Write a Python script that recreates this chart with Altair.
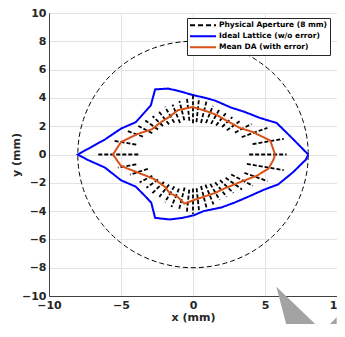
import numpy as np
import pandas as pd
import altair as alt

# ---------------- data ----------------
aperture_radius = 8.0

ideal_x = [8.0, 6.94, 5.81, 4.69, 3.56, 2.66, 1.53, 0.74, -0.04, -0.95, -1.73, -2.63, -2.93, -3.42, -3.98, -5.0, -6.12, -8.0,
           -7.36, -6.12, -5.0, -3.98, -3.42, -2.9, -2.63, -1.62, -0.74, 0.05, 0.74, 1.98, 2.88, 3.78, 4.9, 5.92, 6.94, 7.84, 8.0]
ideal_y = [0.0, 1.1, 2.23, 2.57, 3.02, 3.31, 3.81, 4.03, 4.21, 4.48, 4.66, 4.6, 3.47, 2.91, 2.28, 1.83, 1.06, 0.0,
           -0.36, -0.92, -1.82, -2.27, -2.84, -3.4, -4.48, -4.59, -4.48, -4.3, -4.0, -3.74, -3.4, -3.01, -2.5, -2.11, -1.26, -0.36, 0.0]

mean_x = [5.7, 5.36, 4.12, 3.22, 2.43, 1.64, 0.74, -0.04, -1.05, -1.62, -2.3, -2.86, -3.87, -5.0, -5.56,
          -5.0, -3.87, -2.74, -1.96, -1.62, -1.05, -0.6, 0.18, 1.53, 2.2, 3.33, 4.45, 5.25, 5.59, 5.7]
mean_y = [0.0, 0.99, 1.6, 1.89, 2.34, 2.8, 3.13, 3.36, 3.13, 2.68, 2.23, 1.78, 1.44, 0.88, 0.0,
          -0.81, -1.26, -1.71, -2.27, -2.72, -3.01, -3.47, -3.18, -2.72, -2.39, -1.93, -1.49, -0.99, -0.36, 0.0]

# spread of DA over error seeds along each ray: angle (deg), inner radius, outer radius
ray_angle = [0, 10, 20, 28, 36, 44, 52, 60, 68, 76, 84, 90, 96, 104, 112, 120, 128, 136, 144, 152, 160, 170, 180,
             -10, -20, -28, -36, -44, -52, -60, -68, -76, -84, -90, -96, -104, -112, -120, -128, -136, -144, -152, -162, -170]
ray_rin = [3.9, 4.2, 3.6, 3.3, 2.9, 2.8, 2.6, 2.5, 2.4, 2.3, 2.3, 2.2, 2.4, 2.5, 2.4, 2.6, 2.7, 2.9, 3.0, 3.2, 3.7, 4.0, 3.8,
           3.8, 3.8, 3.0, 2.8, 2.6, 2.5, 2.4, 2.3, 2.3, 2.4, 2.4, 2.5, 2.4, 2.6, 2.6, 2.7, 2.8, 3.0, 3.2, 3.3, 4.0]
ray_rout = [6.5, 6.4, 5.5, 4.6, 4.0, 3.8, 3.7, 3.7, 3.7, 3.9, 4.0, 4.2, 4.1, 3.9, 3.8, 3.9, 3.9, 3.9, 4.1, 4.3, 4.9, 5.6, 6.7,
            6.4, 5.5, 4.7, 4.2, 3.9, 3.8, 3.7, 3.8, 3.9, 4.1, 4.2, 4.2, 4.0, 4.0, 3.9, 3.8, 4.0, 4.0, 4.2, 4.6, 5.3]

series_names = ["Physical Aperture (8 mm)", "Ideal Lattice (w/o error)", "Mean DA (with error)"]
series_colors = ["#000000", "#0000ff", "#d95319"]

# grey overlay shape in the lower right corner (y levels, left x, right x)
shape1_y = [-9.34, -11.98]
shape1_x = [5.79, 6.47]
shape1_x2 = [5.79, 8.49]
shape2_y = [-11.5, -11.98]
shape2_x = [9.98, 9.51]
shape2_x2 = [9.98, 9.98]

# ---------------- tables ----------------
t = np.linspace(0, 2 * np.pi, 241)
circle_df = pd.DataFrame({"x": aperture_radius * np.cos(t), "y": aperture_radius * np.sin(t),
                          "o": np.arange(len(t)), "series": series_names[0]})
ideal_df = pd.DataFrame({"x": ideal_x, "y": ideal_y, "o": range(len(ideal_x)), "series": series_names[1]})
mean_df = pd.DataFrame({"x": mean_x, "y": mean_y, "o": range(len(mean_x)), "series": series_names[2]})

a = np.deg2rad(np.array(ray_angle, dtype=float))
rays_df = pd.DataFrame({
    "x": np.array(ray_rin) * np.cos(a), "y": np.array(ray_rin) * np.sin(a),
    "x2": np.array(ray_rout) * np.cos(a), "y2": np.array(ray_rout) * np.sin(a),
})
shape1_df = pd.DataFrame({"y": shape1_y, "x": shape1_x, "x2": shape1_x2})
shape2_df = pd.DataFrame({"y": shape2_y, "x": shape2_x, "x2": shape2_x2})

FONT = "DejaVu Sans"

xscale = alt.Scale(domain=[-10, 10], nice=False, zero=False)
yscale = alt.Scale(domain=[-10, 10], nice=False, zero=False)

xaxis = alt.Axis(title="x (mm)", values=[-10, -5, 0, 5, 10], format="d", labelFlush=False, labelOverlap=False,
                 ticks=False, labelPadding=3, titlePadding=1)
yaxis = alt.Axis(title="y (mm)", values=list(range(-10, 11, 2)), format="d", labelFlush=False, labelOverlap=False,
                 ticks=False, labelPadding=3, titlePadding=0)

legend = alt.Legend(title=None, orient="none", legendX=138, legendY=5, symbolType="stroke", symbolSize=676,
                    symbolStrokeWidth=1.8, labelFont=FONT, labelFontWeight="bold", labelFontSize=7.5,
                    labelColor="#000000", fillColor="#ffffff", strokeColor="#262626", padding=2,
                    rowPadding=0, clipHeight=10.5, labelOffset=2, symbolOffset=0)

color = alt.Color("series:N", scale=alt.Scale(domain=series_names, range=series_colors), legend=legend)
dash = alt.StrokeDash("series:N", scale=alt.Scale(domain=series_names, range=[[5, 3], [1, 0], [1, 0]]), legend=legend)

X = alt.X("x:Q", scale=xscale, axis=xaxis)
Y = alt.Y("y:Q", scale=yscale, axis=yaxis)

circle = alt.Chart(circle_df).mark_line(strokeWidth=1).encode(
    x=X, y=Y, order="o:Q", color=color, strokeDash=dash)

ideal = alt.Chart(ideal_df).mark_line(strokeWidth=2).encode(
    x=X, y=Y, order="o:Q", color=color, strokeDash=dash)

rays = alt.Chart(rays_df).mark_rule(strokeWidth=1.8, strokeDash=[4, 2], color="#000000").encode(
    x=X, y=Y, x2="x2:Q", y2="y2:Q")

mean = alt.Chart(mean_df).mark_line(strokeWidth=2).encode(
    x=X, y=Y, order="o:Q", color=color, strokeDash=dash)

shape1 = alt.Chart(shape1_df).mark_area(orient="horizontal", clip=False, color="#a3a3a3", opacity=1).encode(
    y=Y, x=X, x2="x2:Q")
shape2 = alt.Chart(shape2_df).mark_area(orient="horizontal", clip=False, color="#a3a3a3", opacity=1).encode(
    y=Y, x=X, x2="x2:Q")

chart = alt.layer(circle, ideal, rays, mean, shape1, shape2).properties(
    width=288, height=283,
    autosize=alt.AutoSizeParams(type="none"),
    padding={"left": 41, "top": 5, "right": 0, "bottom": 28},
).configure_view(
    stroke="#404040", strokeWidth=1
).configure_axis(
    labelFont=FONT, labelFontWeight="bold", labelFontSize=11, labelColor="#262626",
    titleFont=FONT, titleFontWeight="bold", titleFontSize=11, titleColor="#262626",
    gridColor="#e3e3e3", gridWidth=1, domainColor="#404040", domainWidth=1,
    labelOverlap=False, labelFlush=False,
)

chart.save("out.html", embed_options={"renderer": "svg", "actions": False})
